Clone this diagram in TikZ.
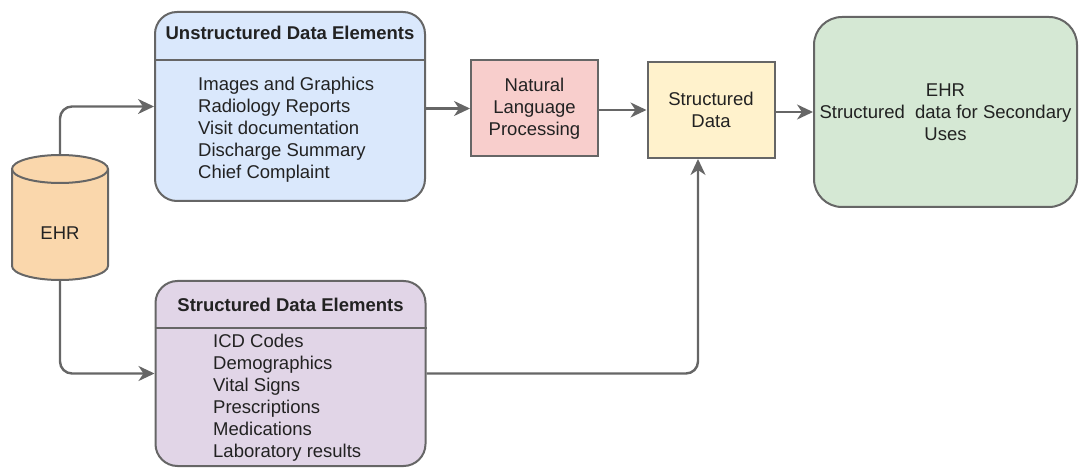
\documentclass[tikz,border=0pt]{standalone}
\usepackage{fontspec}
\setmainfont{Liberation Sans}
\usetikzlibrary{arrows.meta}
\definecolor{lc}{HTML}{666666}
\definecolor{tc}{HTML}{222222}
\definecolor{blueF}{HTML}{DAE8FC}
\definecolor{redF}{HTML}{F8CECC}
\definecolor{yelF}{HTML}{FFF2CC}
\definecolor{grnF}{HTML}{D5E8D4}
\definecolor{purF}{HTML}{E1D5E7}
\definecolor{orF}{HTML}{FAD7AC}
\tikzset{
  x=1pt,y=1pt,
  txt/.style={font=\fontsize{18.5}{22}\selectfont, text=tc, inner sep=0pt},
  boxbase/.style={draw=lc, line width=2pt, inner sep=0pt},
  lane/.style={boxbase, rounded corners=22pt, minimum width=270pt},
  plain/.style={boxbase, minimum width=127pt, minimum height=96pt, align=center, txt},
  arr/.style={draw=lc, line width=2.4pt, -{Stealth[length=16pt,width=15pt,inset=5pt]}},
}
\begin{document}
\begin{tikzpicture}
\useasboundingbox (0,0) rectangle (1079,469);
% EHR cylinder
\node[minimum width=96pt, minimum height=125pt, inner sep=0pt] (ehr) at (60,251.5) {};
\draw[fill=orF, draw=lc, line width=2pt]
  (12,300) -- (12,203) arc (180:360:48 and 14) -- (108,300) arc (0:180:48 and 14) -- cycle;
\draw[draw=lc, line width=2pt] (12,300) arc (180:360:48 and 14);
\node[txt] (ehrlbl) at (60,236) {EHR};
% Unstructured data elements
\node[lane, fill=blueF, minimum height=189pt] (unstr) at (290,362.5) {};
\draw[draw=lc, line width=2pt] (unstr.west |- 0,409) -- (unstr.east |- 0,409);
\node[txt, font=\fontsize{18.5}{22}\selectfont\bfseries] (unstrh) at (290,436) {Unstructured Data Elements};
\node[txt, anchor=west, align=left] (unstri) at (198,339) {Images and Graphics\\Radiology Reports\\Visit documentation\\Discharge Summary\\Chief Complaint};
% Structured data elements
\node[lane, fill=purF, minimum height=185pt] (struc) at (290.5,95.5) {};
\draw[draw=lc, line width=2pt] (struc.west |- 0,141) -- (struc.east |- 0,141);
\node[txt, font=\fontsize{18.5}{22}\selectfont\bfseries] (struch) at (290.5,164) {Structured Data Elements};
\node[txt, anchor=west, align=left] (struci) at (213,71) {ICD Codes\\Demographics\\Vital Signs\\Prescriptions\\Medications\\Laboratory results};
% NLP
\node[plain, fill=redF] (nlp) at (534.5,360.5) {Natural\\Language\\Processing};
% Structured data
\node[plain, fill=yelF] (sd) at (711,359) {Structured\\Data};
% Green box
\node[boxbase, fill=grnF, rounded corners=28pt, minimum width=263pt, minimum height=190pt, align=center, txt] (sec) at (945.5,357) {EHR\\Structured\ \ data for Secondary\\Uses};
% connectors
\draw[arr, rounded corners=12pt] (ehr.north) |- (unstr.west);
\draw[arr, rounded corners=12pt] (ehr.south) |- (struc.west);
\draw[arr] (nlp.west -| unstr.east) -- (nlp.west);
\draw[arr] (sd.west -| nlp.east) -- (sd.west);
\draw[arr] (sec.west -| sd.east) -- (sec.west);
\coordinate (sdin) at ([xshift=-13pt]sd.south);
\draw[arr, rounded corners=12pt] (struc.east) -| (sdin);
\end{tikzpicture}
\end{document}
